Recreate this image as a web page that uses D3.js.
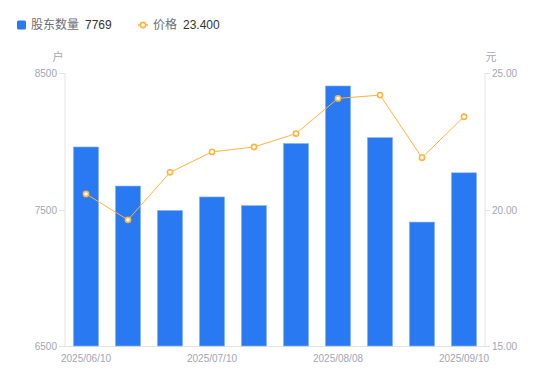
<!DOCTYPE html>
<html><head><meta charset="utf-8">
<script src="https://cdn.jsdelivr.net/npm/d3@7"></script>
<style>body{margin:0;background:#fff;}svg{display:block;font-family:"Liberation Sans",Arial,"Noto Sans CJK SC",sans-serif;}</style>
</head><body><svg id="c" width="550" height="381"></svg>
<script>
const dates = ["2025/06/10","2025/06/20","2025/06/30","2025/07/10","2025/07/18","2025/07/31","2025/08/08","2025/08/20","2025/08/31","2025/09/10"];
const holders = [7958, 7672, 7493, 7592, 7529, 7984, 8405, 8027, 7408, 7769];
const prices = [20.57, 19.62, 21.36, 22.11, 22.29, 22.78, 24.07, 24.19, 21.90, 23.40];
const leftTicks = [6500, 7500, 8500];
const rightTicks = [15, 20, 25];
const shownDates = ["2025/06/10","2025/07/10","2025/08/08","2025/09/10"];

const svg = d3.select("#c");
const L = 65, R = 485, T = 73, B = 346;
const x = d3.scaleBand().domain(dates).range([L, R]).paddingInner(0.4).paddingOuter(0.2);
const yL = d3.scaleLinear().domain([6500, 8500]).range([B, T]);
const yR = d3.scaleLinear().domain([15, 25]).range([B, T]);
const axisCol = "#e3e3e6", txtCol = "#a3a5b3";
const cjk = '"Noto Sans CJK SC",sans-serif';

// axes lines
svg.append("line").attr("x1", L).attr("x2", L).attr("y1", T).attr("y2", B).attr("stroke", axisCol);
svg.append("line").attr("x1", R).attr("x2", R).attr("y1", T).attr("y2", B).attr("stroke", axisCol);
svg.append("line").attr("x1", L).attr("x2", R).attr("y1", B + 0.5).attr("y2", B + 0.5).attr("stroke", axisCol);

leftTicks.forEach(v => {
  const y = Math.round(yL(v)) + 0.5;
  svg.append("line").attr("x1", L - 6).attr("x2", L).attr("y1", y).attr("y2", y).attr("stroke", axisCol);
  svg.append("text").attr("x", L - 8).attr("y", y).attr("dy", "0.35em").attr("text-anchor", "end")
    .attr("font-size", 10).attr("fill", txtCol).text(v);
});
rightTicks.forEach(v => {
  const y = Math.round(yR(v)) + 0.5;
  svg.append("line").attr("x1", R).attr("x2", R + 5).attr("y1", y).attr("y2", y).attr("stroke", axisCol);
  svg.append("text").attr("x", R + 7).attr("y", y).attr("dy", "0.35em").attr("text-anchor", "start")
    .attr("font-size", 10).attr("fill", txtCol).text(v.toFixed(2));
});
shownDates.forEach(d => {
  svg.append("text").attr("x", x(d) + x.bandwidth() / 2).attr("y", 358).attr("dy", "0.35em")
    .attr("text-anchor", "middle").attr("font-size", 10).attr("fill", txtCol).text(d);
});
svg.append("text").attr("x", 58).attr("y", 57).attr("dy", "0.35em").attr("text-anchor", "middle")
  .attr("font-size", 11).attr("fill", txtCol).style("font-family", cjk).text("户");
svg.append("text").attr("x", 491).attr("y", 57).attr("dy", "0.35em").attr("text-anchor", "middle")
  .attr("font-size", 11).attr("fill", txtCol).style("font-family", cjk).text("元");

// bars
const barCol = "#2979f2";
svg.append("g").selectAll("rect").data(dates).join("rect")
  .attr("x", d => x(d)).attr("width", x.bandwidth())
  .attr("y", (d, i) => yL(holders[i])).attr("height", (d, i) => B - yL(holders[i]))
  .attr("fill", barCol).attr("stroke", "#8fb8f6").attr("stroke-width", 0.6);

// line
const orange = "#ffb43c";
const line = d3.line().x((d, i) => x(dates[i]) + x.bandwidth() / 2).y(d => yR(d));
svg.append("path").datum(prices).attr("d", line).attr("fill", "none").attr("stroke", orange).attr("stroke-width", 1);
svg.append("g").selectAll("circle").data(prices).join("circle")
  .attr("cx", (d, i) => x(dates[i]) + x.bandwidth() / 2).attr("cy", d => yR(d)).attr("r", 2.6)
  .attr("fill", "#fff").attr("stroke", orange).attr("stroke-width", 1.6);

// legend
svg.append("rect").attr("x", 17).attr("y", 20.5).attr("width", 9).attr("height", 9).attr("rx", 1.5).attr("fill", barCol);
svg.append("text").attr("x", 31).attr("y", 25).attr("dy", "0.35em").attr("font-size", 12).attr("fill", "#6b6e7a")
  .style("font-family", cjk).text("股东数量");
svg.append("text").attr("x", 85).attr("y", 25).attr("dy", "0.35em").attr("font-size", 12).attr("fill", "#333").text(holders[holders.length - 1]);
svg.append("line").attr("x1", 138).attr("x2", 148).attr("y1", 25).attr("y2", 25).attr("stroke", orange).attr("stroke-width", 1.5);
svg.append("circle").attr("cx", 143).attr("cy", 25).attr("r", 2.6).attr("fill", "#fff").attr("stroke", orange).attr("stroke-width", 1.6);
svg.append("text").attr("x", 153).attr("y", 25).attr("dy", "0.35em").attr("font-size", 12).attr("fill", "#6b6e7a")
  .style("font-family", cjk).text("价格");
svg.append("text").attr("x", 183).attr("y", 25).attr("dy", "0.35em").attr("font-size", 12).attr("fill", "#333").text(prices[prices.length - 1].toFixed(3));
</script></body></html>
